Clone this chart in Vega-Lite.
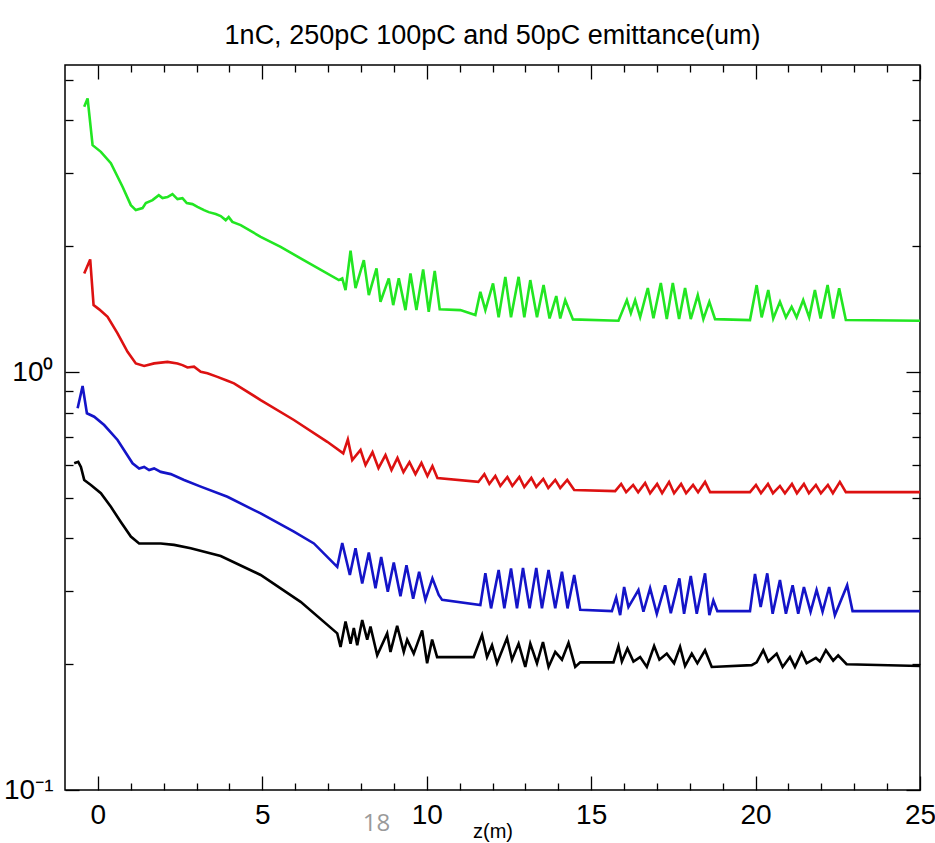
{
"$schema": "https://vega.github.io/schema/vega-lite/v6.json",
"width": 855, "height": 725,
"autosize": {"type": "none"},
"padding": {"left": 65, "top": 65, "right": 15, "bottom": 53},
"background": "white",
"title": {"text": "1nC, 250pC 100pC and 50pC emittance(um)", "font": "Liberation Sans", "fontSize": 27, "fontWeight": "normal", "color": "black", "anchor": "middle", "offset": 14},
"datasets": {
"note": [{"x": 8.47, "y": 0.083, "t": "18"}],
"emit": [
{"s":"1nC","x":-0.416,"y":4.312},{"s":"1nC","x":-0.313,"y":4.516},{"s":"1nC","x":-0.161,"y":3.491},{"s":"1nC","x":0.091,"y":3.365},{"s":"1nC","x":0.395,"y":3.162},{"s":"1nC","x":0.75,"y":2.776},{"s":"1nC","x":1.002,"y":2.509},{"s":"1nC","x":1.154,"y":2.441},{"s":"1nC","x":1.357,"y":2.468},{"s":"1nC","x":1.458,"y":2.537},{"s":"1nC","x":1.661,"y":2.579},{"s":"1nC","x":1.852,"y":2.651},{"s":"1nC","x":1.965,"y":2.608},{"s":"1nC","x":2.117,"y":2.622},{"s":"1nC","x":2.268,"y":2.666},{"s":"1nC","x":2.42,"y":2.594},{"s":"1nC","x":2.572,"y":2.608},{"s":"1nC","x":2.703,"y":2.537},{"s":"1nC","x":2.876,"y":2.523},{"s":"1nC","x":3.028,"y":2.486},{"s":"1nC","x":3.228,"y":2.441},{"s":"1nC","x":3.371,"y":2.414},{"s":"1nC","x":3.583,"y":2.388},{"s":"1nC","x":3.735,"y":2.362},{"s":"1nC","x":3.887,"y":2.31},{"s":"1nC","x":3.978,"y":2.349},{"s":"1nC","x":4.09,"y":2.288},{"s":"1nC","x":4.343,"y":2.247},{"s":"1nC","x":4.95,"y":2.107},{"s":"1nC","x":5.557,"y":1.994},{"s":"1nC","x":6.165,"y":1.871},{"s":"1nC","x":7.328,"y":1.66},{"s":"1nC","x":7.431,"y":1.676},{"s":"1nC","x":7.531,"y":1.571},{"s":"1nC","x":7.683,"y":1.951},{"s":"1nC","x":7.835,"y":1.589},{"s":"1nC","x":8.087,"y":1.853},{"s":"1nC","x":8.239,"y":1.528},{"s":"1nC","x":8.473,"y":1.77},{"s":"1nC","x":8.594,"y":1.473},{"s":"1nC","x":8.846,"y":1.676},{"s":"1nC","x":8.98,"y":1.446},{"s":"1nC","x":9.15,"y":1.676},{"s":"1nC","x":9.353,"y":1.407},{"s":"1nC","x":9.505,"y":1.722},{"s":"1nC","x":9.687,"y":1.407},{"s":"1nC","x":9.891,"y":1.761},{"s":"1nC","x":10.061,"y":1.394},{"s":"1nC","x":10.243,"y":1.747},{"s":"1nC","x":10.395,"y":1.413},{"s":"1nC","x":11.023,"y":1.407},{"s":"1nC","x":11.479,"y":1.369},{"s":"1nC","x":11.631,"y":1.556},{"s":"1nC","x":11.783,"y":1.407},{"s":"1nC","x":12.016,"y":1.63},{"s":"1nC","x":12.187,"y":1.352},{"s":"1nC","x":12.39,"y":1.69},{"s":"1nC","x":12.563,"y":1.352},{"s":"1nC","x":12.794,"y":1.69},{"s":"1nC","x":12.967,"y":1.352},{"s":"1nC","x":13.149,"y":1.66},{"s":"1nC","x":13.353,"y":1.352},{"s":"1nC","x":13.553,"y":1.615},{"s":"1nC","x":13.735,"y":1.344},{"s":"1nC","x":13.939,"y":1.52},{"s":"1nC","x":14.06,"y":1.344},{"s":"1nC","x":14.212,"y":1.487},{"s":"1nC","x":14.446,"y":1.337},{"s":"1nC","x":15.831,"y":1.327},{"s":"1nC","x":16.086,"y":1.487},{"s":"1nC","x":16.207,"y":1.384},{"s":"1nC","x":16.338,"y":1.487},{"s":"1nC","x":16.49,"y":1.354},{"s":"1nC","x":16.723,"y":1.589},{"s":"1nC","x":16.894,"y":1.346},{"s":"1nC","x":17.118,"y":1.633},{"s":"1nC","x":17.3,"y":1.339},{"s":"1nC","x":17.483,"y":1.633},{"s":"1nC","x":17.674,"y":1.339},{"s":"1nC","x":17.856,"y":1.589},{"s":"1nC","x":18.029,"y":1.339},{"s":"1nC","x":18.242,"y":1.528},{"s":"1nC","x":18.412,"y":1.339},{"s":"1nC","x":18.594,"y":1.473},{"s":"1nC","x":18.767,"y":1.339},{"s":"1nC","x":19.83,"y":1.332},{"s":"1nC","x":20.033,"y":1.615},{"s":"1nC","x":20.185,"y":1.352},{"s":"1nC","x":20.386,"y":1.571},{"s":"1nC","x":20.537,"y":1.344},{"s":"1nC","x":20.741,"y":1.473},{"s":"1nC","x":20.923,"y":1.352},{"s":"1nC","x":21.096,"y":1.433},{"s":"1nC","x":21.248,"y":1.352},{"s":"1nC","x":21.448,"y":1.487},{"s":"1nC","x":21.631,"y":1.352},{"s":"1nC","x":21.804,"y":1.571},{"s":"1nC","x":21.977,"y":1.344},{"s":"1nC","x":22.19,"y":1.615},{"s":"1nC","x":22.36,"y":1.344},{"s":"1nC","x":22.542,"y":1.586},{"s":"1nC","x":22.745,"y":1.332},{"s":"1nC","x":25,"y":1.327},
{"s":"250pC","x":-0.416,"y":1.722},{"s":"250pC","x":-0.234,"y":1.86},{"s":"250pC","x":-0.131,"y":1.446},{"s":"250pC","x":0.039,"y":1.413},{"s":"250pC","x":0.295,"y":1.356},{"s":"250pC","x":0.598,"y":1.238},{"s":"250pC","x":0.902,"y":1.118},{"s":"250pC","x":1.154,"y":1.049},{"s":"250pC","x":1.406,"y":1.034},{"s":"250pC","x":1.71,"y":1.049},{"s":"250pC","x":2.117,"y":1.058},{"s":"250pC","x":2.42,"y":1.049},{"s":"250pC","x":2.572,"y":1.039},{"s":"250pC","x":2.724,"y":1.026},{"s":"250pC","x":2.924,"y":1.03},{"s":"250pC","x":3.128,"y":1.002},{"s":"250pC","x":3.331,"y":0.993},{"s":"250pC","x":3.635,"y":0.974},{"s":"250pC","x":3.939,"y":0.953},{"s":"250pC","x":4.139,"y":0.94},{"s":"250pC","x":4.95,"y":0.857},{"s":"250pC","x":5.961,"y":0.768},{"s":"250pC","x":6.975,"y":0.681},{"s":"250pC","x":7.461,"y":0.639},{"s":"250pC","x":7.601,"y":0.69},{"s":"250pC","x":7.735,"y":0.616},{"s":"250pC","x":7.987,"y":0.651},{"s":"250pC","x":8.139,"y":0.599},{"s":"250pC","x":8.351,"y":0.643},{"s":"250pC","x":8.533,"y":0.589},{"s":"250pC","x":8.746,"y":0.633},{"s":"250pC","x":8.928,"y":0.583},{"s":"250pC","x":9.11,"y":0.623},{"s":"250pC","x":9.292,"y":0.576},{"s":"250pC","x":9.475,"y":0.609},{"s":"250pC","x":9.657,"y":0.57},{"s":"250pC","x":9.839,"y":0.606},{"s":"250pC","x":10.021,"y":0.564},{"s":"250pC","x":10.173,"y":0.596},{"s":"250pC","x":10.325,"y":0.558},{"s":"250pC","x":11.57,"y":0.546},{"s":"250pC","x":11.752,"y":0.57},{"s":"250pC","x":11.904,"y":0.54},{"s":"250pC","x":12.086,"y":0.564},{"s":"250pC","x":12.238,"y":0.534},{"s":"250pC","x":12.451,"y":0.561},{"s":"250pC","x":12.603,"y":0.534},{"s":"250pC","x":12.815,"y":0.561},{"s":"250pC","x":12.967,"y":0.531},{"s":"250pC","x":13.18,"y":0.558},{"s":"250pC","x":13.331,"y":0.531},{"s":"250pC","x":13.544,"y":0.555},{"s":"250pC","x":13.696,"y":0.528},{"s":"250pC","x":13.908,"y":0.552},{"s":"250pC","x":14.06,"y":0.528},{"s":"250pC","x":14.273,"y":0.552},{"s":"250pC","x":14.485,"y":0.522},{"s":"250pC","x":15.73,"y":0.519},{"s":"250pC","x":15.912,"y":0.54},{"s":"250pC","x":16.064,"y":0.516},{"s":"250pC","x":16.277,"y":0.537},{"s":"250pC","x":16.429,"y":0.516},{"s":"250pC","x":16.641,"y":0.543},{"s":"250pC","x":16.793,"y":0.513},{"s":"250pC","x":17.006,"y":0.54},{"s":"250pC","x":17.158,"y":0.513},{"s":"250pC","x":17.37,"y":0.546},{"s":"250pC","x":17.522,"y":0.513},{"s":"250pC","x":17.735,"y":0.54},{"s":"250pC","x":17.887,"y":0.513},{"s":"250pC","x":18.099,"y":0.537},{"s":"250pC","x":18.251,"y":0.516},{"s":"250pC","x":18.464,"y":0.546},{"s":"250pC","x":18.616,"y":0.516},{"s":"250pC","x":19.83,"y":0.516},{"s":"250pC","x":20.012,"y":0.537},{"s":"250pC","x":20.164,"y":0.513},{"s":"250pC","x":20.377,"y":0.54},{"s":"250pC","x":20.528,"y":0.513},{"s":"250pC","x":20.741,"y":0.534},{"s":"250pC","x":20.893,"y":0.513},{"s":"250pC","x":21.106,"y":0.54},{"s":"250pC","x":21.257,"y":0.513},{"s":"250pC","x":21.47,"y":0.54},{"s":"250pC","x":21.622,"y":0.513},{"s":"250pC","x":21.834,"y":0.537},{"s":"250pC","x":21.986,"y":0.513},{"s":"250pC","x":22.199,"y":0.537},{"s":"250pC","x":22.351,"y":0.513},{"s":"250pC","x":22.563,"y":0.546},{"s":"250pC","x":22.745,"y":0.516},{"s":"250pC","x":25,"y":0.516},
{"s":"100pC","x":-0.616,"y":0.819},{"s":"100pC","x":-0.465,"y":0.926},{"s":"100pC","x":-0.334,"y":0.797},{"s":"100pC","x":-0.112,"y":0.782},{"s":"100pC","x":0.191,"y":0.747},{"s":"100pC","x":0.598,"y":0.688},{"s":"100pC","x":1.054,"y":0.605},{"s":"100pC","x":1.254,"y":0.588},{"s":"100pC","x":1.406,"y":0.593},{"s":"100pC","x":1.558,"y":0.583},{"s":"100pC","x":1.71,"y":0.588},{"s":"100pC","x":1.913,"y":0.577},{"s":"100pC","x":2.217,"y":0.57},{"s":"100pC","x":2.621,"y":0.552},{"s":"100pC","x":3.128,"y":0.532},{"s":"100pC","x":3.939,"y":0.503},{"s":"100pC","x":4.95,"y":0.459},{"s":"100pC","x":5.961,"y":0.415},{"s":"100pC","x":6.569,"y":0.389},{"s":"100pC","x":7.279,"y":0.342},{"s":"100pC","x":7.431,"y":0.39},{"s":"100pC","x":7.662,"y":0.327},{"s":"100pC","x":7.835,"y":0.379},{"s":"100pC","x":8.038,"y":0.312},{"s":"100pC","x":8.239,"y":0.37},{"s":"100pC","x":8.442,"y":0.304},{"s":"100pC","x":8.615,"y":0.361},{"s":"100pC","x":8.816,"y":0.298},{"s":"100pC","x":8.998,"y":0.35},{"s":"100pC","x":9.201,"y":0.291},{"s":"100pC","x":9.384,"y":0.345},{"s":"100pC","x":9.587,"y":0.287},{"s":"100pC","x":9.769,"y":0.333},{"s":"100pC","x":9.96,"y":0.285},{"s":"100pC","x":10.173,"y":0.321},{"s":"100pC","x":10.365,"y":0.293},{"s":"100pC","x":10.468,"y":0.285},{"s":"100pC","x":11.631,"y":0.277},{"s":"100pC","x":11.783,"y":0.33},{"s":"100pC","x":11.956,"y":0.272},{"s":"100pC","x":12.187,"y":0.336},{"s":"100pC","x":12.36,"y":0.272},{"s":"100pC","x":12.563,"y":0.339},{"s":"100pC","x":12.745,"y":0.272},{"s":"100pC","x":12.927,"y":0.34},{"s":"100pC","x":13.128,"y":0.272},{"s":"100pC","x":13.331,"y":0.34},{"s":"100pC","x":13.504,"y":0.272},{"s":"100pC","x":13.705,"y":0.336},{"s":"100pC","x":13.908,"y":0.272},{"s":"100pC","x":14.112,"y":0.333},{"s":"100pC","x":14.282,"y":0.272},{"s":"100pC","x":14.485,"y":0.327},{"s":"100pC","x":14.668,"y":0.27},{"s":"100pC","x":15.63,"y":0.268},{"s":"100pC","x":15.761,"y":0.289},{"s":"100pC","x":15.882,"y":0.262},{"s":"100pC","x":16.003,"y":0.306},{"s":"100pC","x":16.134,"y":0.274},{"s":"100pC","x":16.438,"y":0.301},{"s":"100pC","x":16.59,"y":0.267},{"s":"100pC","x":16.793,"y":0.304},{"s":"100pC","x":16.997,"y":0.264},{"s":"100pC","x":17.249,"y":0.309},{"s":"100pC","x":17.422,"y":0.265},{"s":"100pC","x":17.683,"y":0.321},{"s":"100pC","x":17.826,"y":0.264},{"s":"100pC","x":18.029,"y":0.325},{"s":"100pC","x":18.211,"y":0.264},{"s":"100pC","x":18.463,"y":0.33},{"s":"100pC","x":18.594,"y":0.262},{"s":"100pC","x":18.716,"y":0.284},{"s":"100pC","x":18.837,"y":0.268},{"s":"100pC","x":19.83,"y":0.268},{"s":"100pC","x":19.982,"y":0.329},{"s":"100pC","x":20.155,"y":0.274},{"s":"100pC","x":20.355,"y":0.33},{"s":"100pC","x":20.519,"y":0.264},{"s":"100pC","x":20.741,"y":0.318},{"s":"100pC","x":20.923,"y":0.264},{"s":"100pC","x":21.127,"y":0.309},{"s":"100pC","x":21.297,"y":0.264},{"s":"100pC","x":21.47,"y":0.306},{"s":"100pC","x":21.673,"y":0.267},{"s":"100pC","x":21.855,"y":0.301},{"s":"100pC","x":22.037,"y":0.267},{"s":"100pC","x":22.238,"y":0.306},{"s":"100pC","x":22.411,"y":0.262},{"s":"100pC","x":22.785,"y":0.309},{"s":"100pC","x":22.949,"y":0.268},{"s":"100pC","x":25,"y":0.268},
{"s":"50pC","x":-0.72,"y":0.605},{"s":"50pC","x":-0.598,"y":0.61},{"s":"50pC","x":-0.516,"y":0.593},{"s":"50pC","x":-0.416,"y":0.552},{"s":"50pC","x":-0.213,"y":0.537},{"s":"50pC","x":0.091,"y":0.513},{"s":"50pC","x":0.395,"y":0.476},{"s":"50pC","x":0.698,"y":0.438},{"s":"50pC","x":1.002,"y":0.404},{"s":"50pC","x":1.254,"y":0.389},{"s":"50pC","x":1.913,"y":0.389},{"s":"50pC","x":2.317,"y":0.386},{"s":"50pC","x":2.824,"y":0.379},{"s":"50pC","x":3.735,"y":0.363},{"s":"50pC","x":4.95,"y":0.327},{"s":"50pC","x":6.165,"y":0.282},{"s":"50pC","x":7.279,"y":0.237},{"s":"50pC","x":7.379,"y":0.22},{"s":"50pC","x":7.531,"y":0.253},{"s":"50pC","x":7.683,"y":0.224},{"s":"50pC","x":7.783,"y":0.244},{"s":"50pC","x":7.886,"y":0.222},{"s":"50pC","x":8.038,"y":0.255},{"s":"50pC","x":8.19,"y":0.229},{"s":"50pC","x":8.29,"y":0.246},{"s":"50pC","x":8.494,"y":0.21},{"s":"50pC","x":8.797,"y":0.237},{"s":"50pC","x":8.898,"y":0.214},{"s":"50pC","x":9.101,"y":0.247},{"s":"50pC","x":9.302,"y":0.214},{"s":"50pC","x":9.405,"y":0.229},{"s":"50pC","x":9.605,"y":0.212},{"s":"50pC","x":9.86,"y":0.241},{"s":"50pC","x":10.012,"y":0.201},{"s":"50pC","x":10.164,"y":0.229},{"s":"50pC","x":10.316,"y":0.208},{"s":"50pC","x":11.023,"y":0.208},{"s":"50pC","x":11.427,"y":0.208},{"s":"50pC","x":11.682,"y":0.235},{"s":"50pC","x":11.834,"y":0.208},{"s":"50pC","x":11.986,"y":0.222},{"s":"50pC","x":12.138,"y":0.201},{"s":"50pC","x":12.442,"y":0.231},{"s":"50pC","x":12.593,"y":0.205},{"s":"50pC","x":12.794,"y":0.224},{"s":"50pC","x":12.997,"y":0.197},{"s":"50pC","x":13.149,"y":0.224},{"s":"50pC","x":13.353,"y":0.201},{"s":"50pC","x":13.535,"y":0.226},{"s":"50pC","x":13.705,"y":0.197},{"s":"50pC","x":13.908,"y":0.214},{"s":"50pC","x":14.112,"y":0.205},{"s":"50pC","x":14.312,"y":0.225},{"s":"50pC","x":14.516,"y":0.197},{"s":"50pC","x":14.668,"y":0.202},{"s":"50pC","x":15.679,"y":0.202},{"s":"50pC","x":15.831,"y":0.221},{"s":"50pC","x":15.934,"y":0.203},{"s":"50pC","x":16.104,"y":0.218},{"s":"50pC","x":16.286,"y":0.203},{"s":"50pC","x":16.49,"y":0.208},{"s":"50pC","x":16.693,"y":0.197},{"s":"50pC","x":16.915,"y":0.221},{"s":"50pC","x":17.076,"y":0.205},{"s":"50pC","x":17.3,"y":0.212},{"s":"50pC","x":17.522,"y":0.201},{"s":"50pC","x":17.704,"y":0.22},{"s":"50pC","x":17.856,"y":0.198},{"s":"50pC","x":18.06,"y":0.212},{"s":"50pC","x":18.23,"y":0.201},{"s":"50pC","x":18.463,"y":0.216},{"s":"50pC","x":18.667,"y":0.197},{"s":"50pC","x":19.882,"y":0.199},{"s":"50pC","x":20.033,"y":0.202},{"s":"50pC","x":20.234,"y":0.216},{"s":"50pC","x":20.386,"y":0.203},{"s":"50pC","x":20.641,"y":0.212},{"s":"50pC","x":20.823,"y":0.197},{"s":"50pC","x":21.045,"y":0.208},{"s":"50pC","x":21.197,"y":0.197},{"s":"50pC","x":21.4,"y":0.213},{"s":"50pC","x":21.552,"y":0.201},{"s":"50pC","x":21.834,"y":0.207},{"s":"50pC","x":21.956,"y":0.203},{"s":"50pC","x":22.138,"y":0.216},{"s":"50pC","x":22.36,"y":0.204},{"s":"50pC","x":22.512,"y":0.21},{"s":"50pC","x":22.767,"y":0.2},{"s":"50pC","x":25,"y":0.198}
]},
"config": {
"view": {"stroke": "black", "strokeWidth": 1.5},
"axis": {"domain": false, "grid": false, "tickColor": "black", "tickWidth": 1.3, "labelFont": "Liberation Sans", "labelColor": "black", "titleFont": "Liberation Sans", "titleColor": "black", "titleFontWeight": "normal"}
},
"resolve": {"axis": {"x": "independent", "y": "independent"}},
"layer": [
{"data": {"name": "emit"},
 "mark": {"type": "line", "strokeWidth": 2.6},
 "encoding": {
  "x": {"field": "x", "type": "quantitative", "scale": {"type": "linear", "domain": [-1, 25], "nice": false, "zero": false},
        "axis": {"orient": "bottom", "values": [0, 5, 10, 15, 20, 25], "ticks": false, "labelFontSize": 28, "labelPadding": 11, "labelFlush": false, "title": "z(m)", "titleFontSize": 20, "titleY": 47, "titleBaseline": "alphabetic"}},
  "y": {"field": "y", "type": "quantitative", "scale": {"type": "log", "domain": [0.1, 5.43], "nice": false},
        "axis": {"orient": "left", "values": [0.1, 1], "ticks": false, "labelExpr": "datum.value < 0.5 ? '10⁻¹' : '10⁰'", "labelFontSize": 28, "labelPadding": 12, "labelFlush": false, "title": null}},
  "color": {"field": "s", "type": "nominal", "scale": {"domain": ["1nC", "250pC", "100pC", "50pC"], "range": ["#22e622", "#dd1111", "#1414c8", "#000000"]}, "legend": null}
 }},
{"data": {"name": "emit"},
 "mark": {"type": "point", "opacity": 0},
 "encoding": {
  "x": {"field": "x", "type": "quantitative", "axis": {"orient": "bottom", "values": [0, 5, 10, 15, 20, 25], "labels": false, "tickSize": -14, "title": null}},
  "y": {"field": "y", "type": "quantitative", "axis": {"orient": "left", "values": [0.1, 1], "labels": false, "tickSize": -14, "title": null}}
 }},
{"data": {"name": "emit"},
 "mark": {"type": "point", "opacity": 0},
 "encoding": {
  "x": {"field": "x", "type": "quantitative", "axis": {"orient": "bottom", "values": [1, 2, 3, 4, 6, 7, 8, 9, 11, 12, 13, 14, 16, 17, 18, 19, 21, 22, 23, 24], "labels": false, "tickSize": -7, "title": null}},
  "y": {"field": "y", "type": "quantitative", "axis": {"orient": "left", "values": [0.2, 0.3, 0.4, 0.5, 0.6, 0.7, 0.8, 0.9, 2, 3, 4, 5], "labels": false, "tickSize": -8, "title": null}}
 }},
{"data": {"name": "emit"},
 "mark": {"type": "point", "opacity": 0},
 "encoding": {
  "x": {"field": "x", "type": "quantitative", "axis": {"orient": "top", "values": [0, 5, 10, 15, 20, 25], "labels": false, "tickSize": -14, "title": null}},
  "y": {"field": "y", "type": "quantitative", "axis": {"orient": "right", "values": [0.1, 1], "labels": false, "tickSize": -14, "title": null}}
 }},
{"data": {"name": "emit"},
 "mark": {"type": "point", "opacity": 0},
 "encoding": {
  "x": {"field": "x", "type": "quantitative", "axis": {"orient": "top", "values": [1, 2, 3, 4, 6, 7, 8, 9, 11, 12, 13, 14, 16, 17, 18, 19, 21, 22, 23, 24], "labels": false, "tickSize": -7, "title": null}},
  "y": {"field": "y", "type": "quantitative", "axis": {"orient": "right", "values": [0.2, 0.3, 0.4, 0.5, 0.6, 0.7, 0.8, 0.9, 2, 3, 4, 5], "labels": false, "tickSize": -8, "title": null}}
 }},
{"data": {"name": "note"},
 "mark": {"type": "text", "font": "Open Sans", "fontSize": 24, "color": "#9a9a9a", "align": "center", "baseline": "middle"},
 "encoding": {
  "x": {"field": "x", "type": "quantitative", "axis": null},
  "y": {"field": "y", "type": "quantitative", "axis": null},
  "text": {"field": "t"}
 }}
]
}
